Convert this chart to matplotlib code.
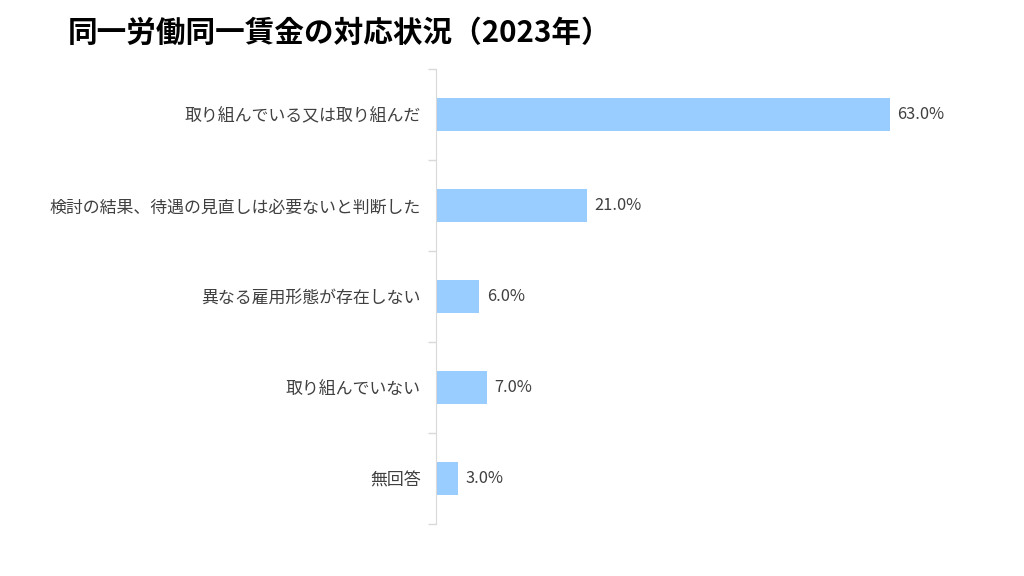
import matplotlib.pyplot as plt
import numpy as np

plt.rcParams['font.family'] = ['Noto Sans CJK JP', 'DejaVu Sans']

categories = [
    "取り組んでいる又は取り組んだ",
    "検討の結果、待遇の見直しは必要ないと判断した",
    "異なる雇用形態が存在しない",
    "取り組んでいない",
    "無回答",
]
values = [63.0, 21.0, 6.0, 7.0, 3.0]

fig = plt.figure(figsize=(10.24, 5.76), dpi=100)
ax = fig.add_axes([0.426, 0.090, 0.443, 0.790])

y = np.arange(len(categories))
ax.barh(y, values, height=0.36, color="#99CCFF")

#value labels to the right of each bar
for yi, v in zip(y, values):
    ax.text(v + 1.0, yi, f"{v:.1f}%", va="center", ha="left",
            fontsize=11.8, color="#404040", clip_on=False)

ax.set_xlim(0, 63)
ax.set_ylim(4.5, -0.5)
ax.set_yticks(y)
ax.set_yticklabels(categories, fontsize=12.2, color="#404040")
ax.tick_params(axis="y", length=0, pad=11)
#minor ticks mark the category boundaries
ax.set_yticks(np.arange(-0.5, len(categories)), minor=True)
ax.tick_params(axis="y", which="minor", length=6, color="#d9d9d9", width=1)
ax.set_xticks([])

for s in ["top", "right", "bottom"]:
    ax.spines[s].set_visible(False)
ax.spines["left"].set_color("#d9d9d9")

fig.text(0.066, 0.942, "同一労働同一賃金の対応状況（2023年）",
         fontsize=21.3, fontweight="bold", va="center", ha="left", color="#000000")

fig.savefig("out.png", dpi=100)
